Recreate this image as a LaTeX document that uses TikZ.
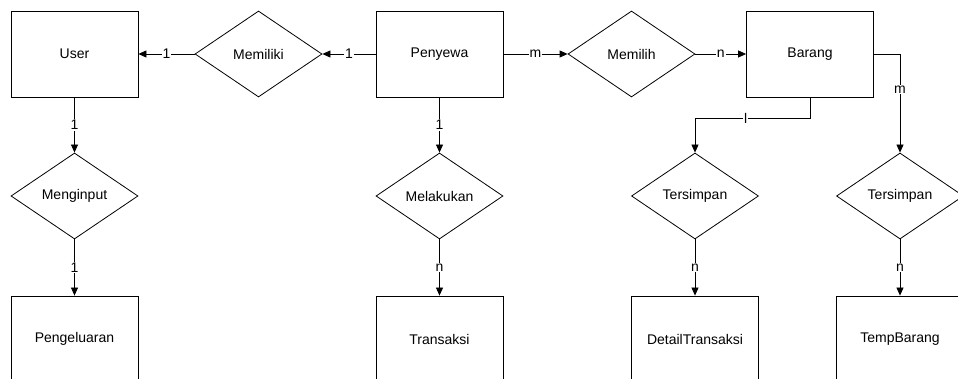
\documentclass[tikz,border=0pt]{standalone}
\usepackage{fontspec}
\setmainfont{Liberation Sans}
\usetikzlibrary{shapes.geometric,arrows.meta}

\begin{document}
\begin{tikzpicture}[x=1pt, y=-1pt,
    entity/.style={draw, line width=0.8pt, minimum width=127pt, minimum height=86pt, inner sep=0pt, font=\fontsize{14}{16}\selectfont},
    relation/.style={draw, diamond, aspect=1.48, line width=0.8pt, minimum width=127pt, minimum height=86pt, inner sep=0pt, font=\fontsize{14}{16}\selectfont},
    conn/.style={line width=0.8pt, -{Triangle[length=8pt,width=7pt]}},
    card/.style={fill=white, inner sep=1pt, font=\fontsize{14}{16}\selectfont}]
    \useasboundingbox (0,0) rectangle (958,379);
    \clip (0,0) rectangle (958,379);

    % Top row
    \node[entity] (user) at (74.5,54) {User};
    \node[relation] (memiliki) at (258.5,54) {Memiliki};
    \node[entity] (penyewa) at (439.5,54) {Penyewa};
    \node[relation] (memilih) at (631.5,54) {Memilih};
    \node[entity] (barang) at (810,54) {Barang};

    % Relations below
    \node[relation] (menginput) at (74.5,196) {Menginput};
    \node[relation] (melakukan) at (439.5,196) {Melakukan};
    \node[relation] (tersimpanA) at (695,196) {Tersimpan};
    \node[relation] (tersimpanB) at (900,196) {Tersimpan};

    % Bottom row
    \node[entity] (pengeluaran) at (74.5,339) {Pengeluaran};
    \node[entity] (transaksi) at (439.5,339) {Transaksi};
    \node[entity] (detail) at (695,339) {DetailTransaksi};
    \node[entity] (temp) at (900,339) {TempBarang};

    % Horizontal links
    \draw[conn] (memiliki) -- node[card] {1} (user);
    \draw[conn] (penyewa) -- node[card] {1} (memiliki);
    \draw[conn] (penyewa) -- node[card] {m} (memilih);
    \draw[conn] (memilih) -- node[card] {n} (barang);

    % Vertical links
    \foreach \a/\b/\c in {user/menginput/1, menginput/pengeluaran/1, penyewa/melakukan/1,
        melakukan/transaksi/n, tersimpanA/detail/n, tersimpanB/temp/n}
        \draw[conn] (\a) -- node[card] {\c} (\b);

    % Barang branches
    \draw[conn] (barang.south) -- ++(0,21) -| node[card, pos=0.28] {l} (tersimpanA.north);
    \draw[conn] (barang.east) -| node[card, pos=0.68] {m} (tersimpanB.north);
\end{tikzpicture}
\end{document}
